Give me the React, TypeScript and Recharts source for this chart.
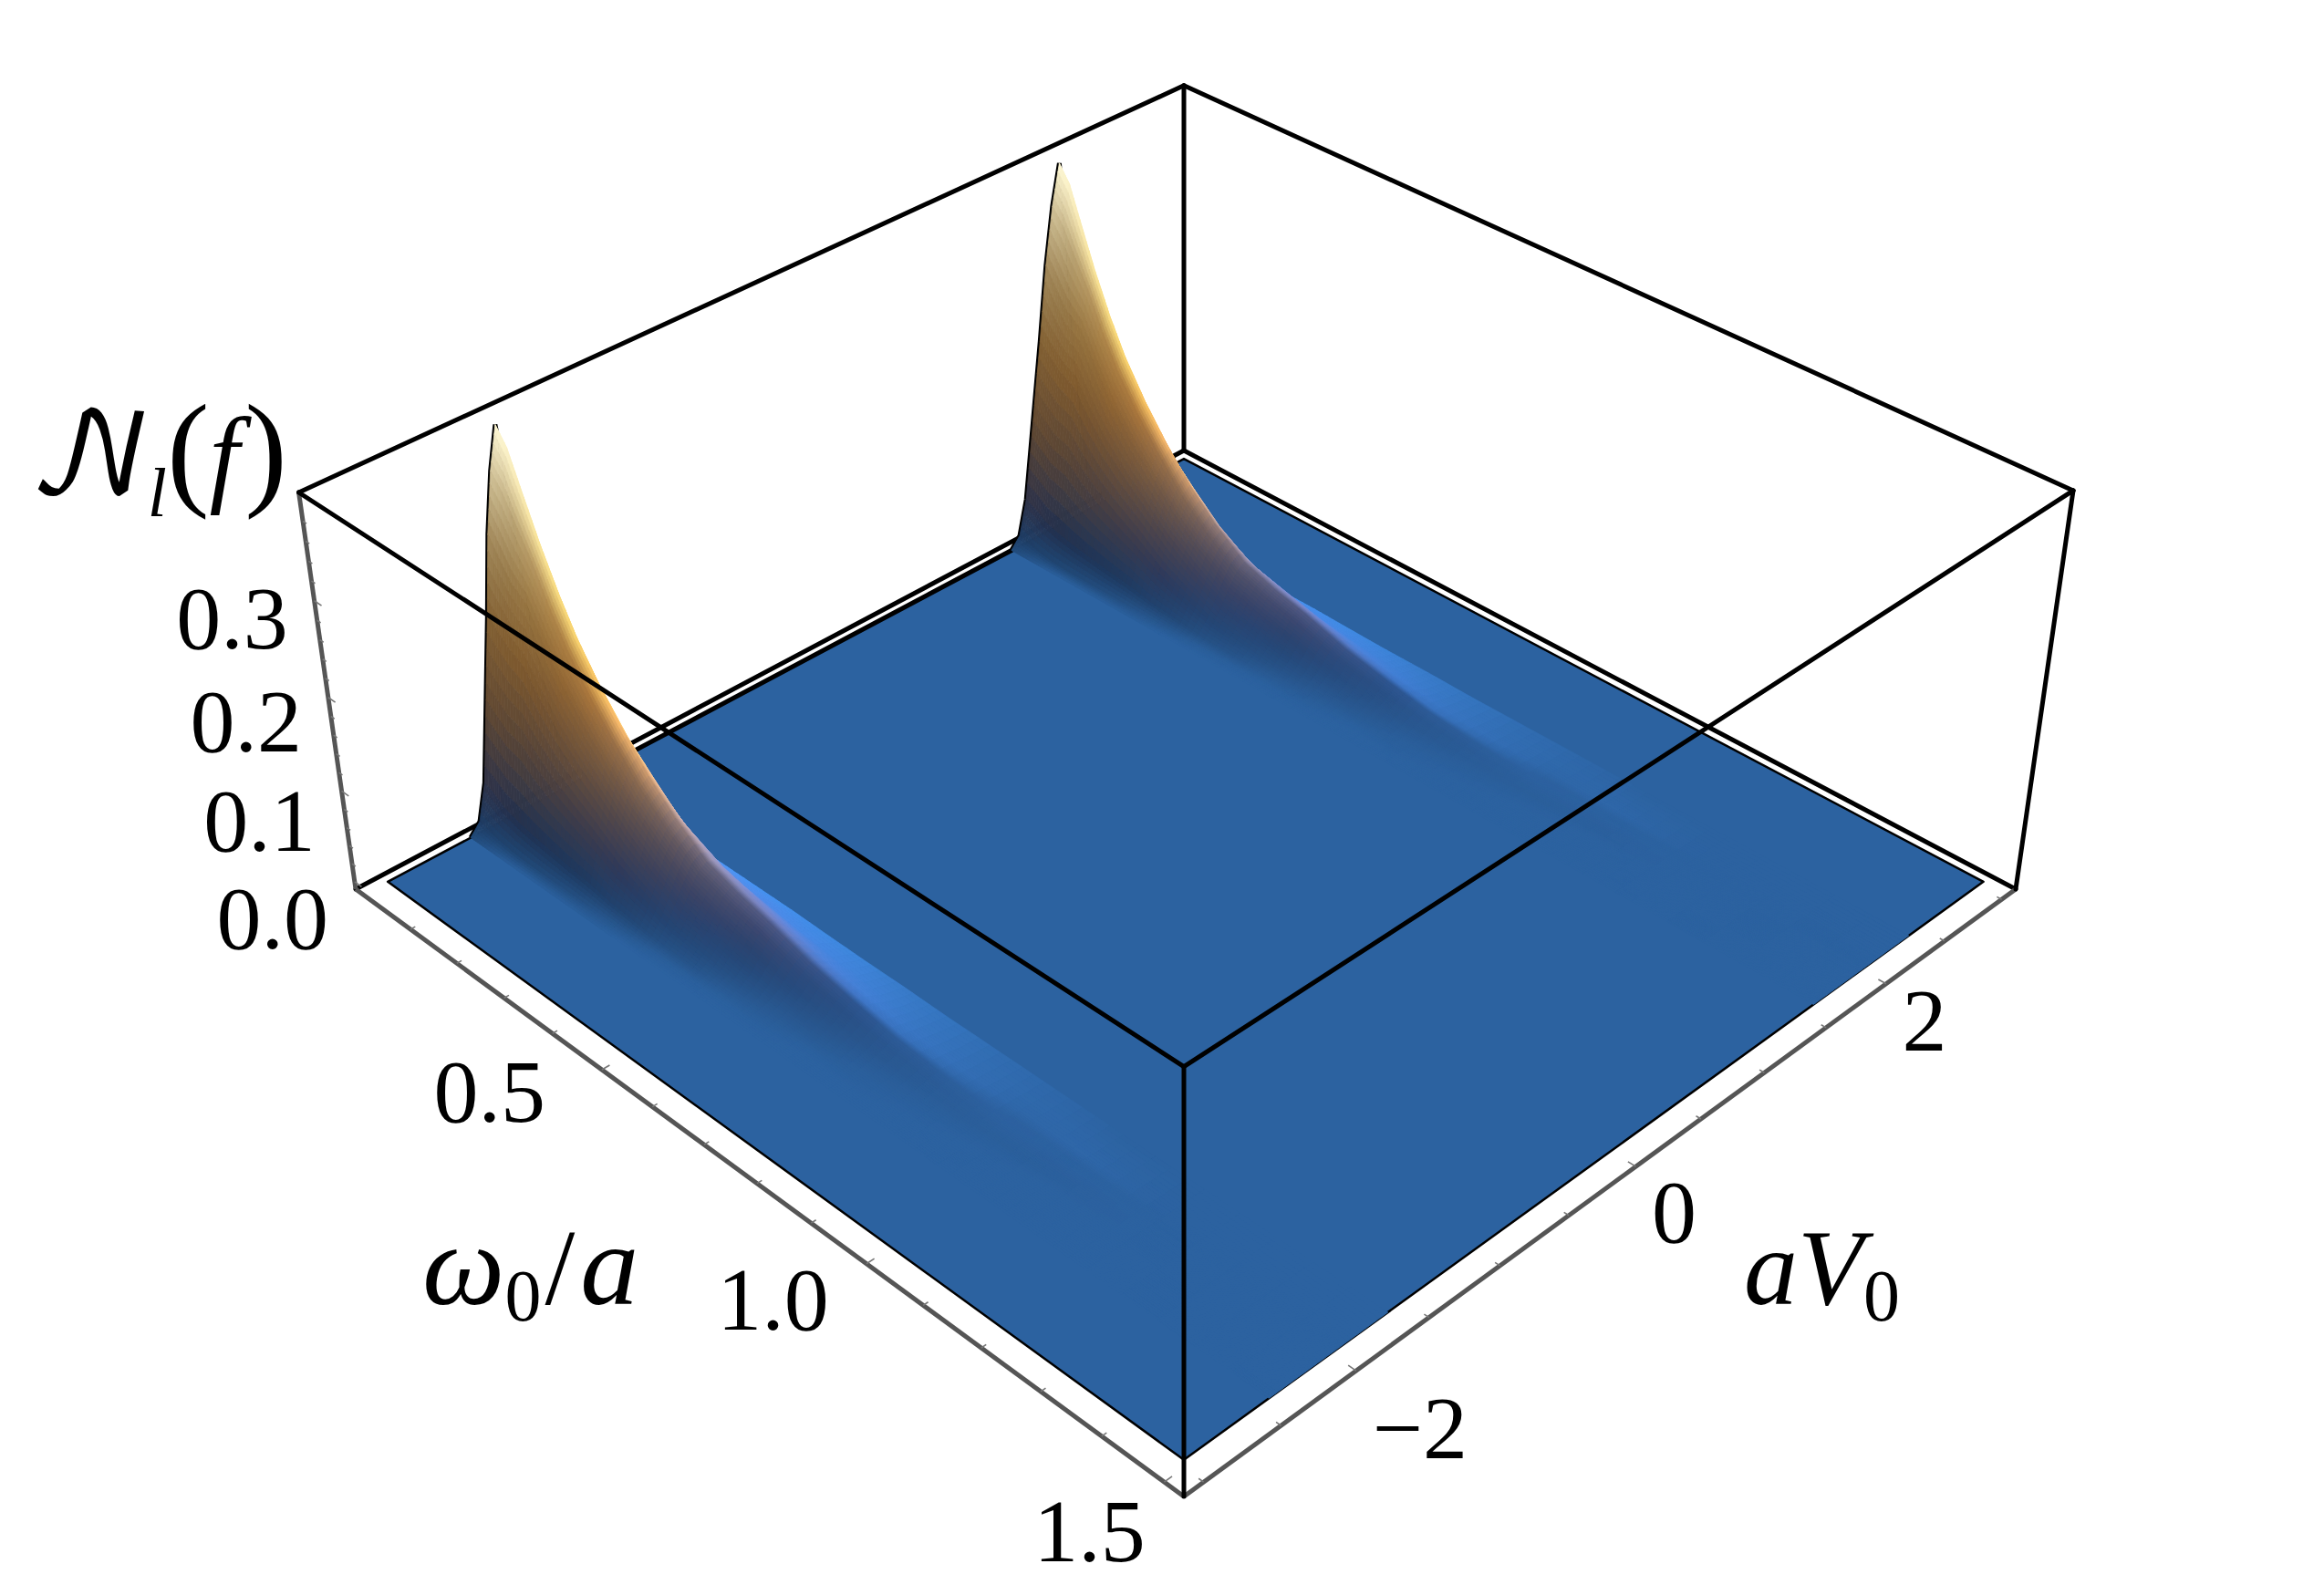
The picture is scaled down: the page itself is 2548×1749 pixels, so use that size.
import React from "react";
import { ScatterChart, Scatter, XAxis, YAxis } from "recharts";

const WIDTH = 2548;
const HEIGHT_PX = 1749;

// values
const OMEGA = [0.01, 0.03, 0.05, 0.08, 0.11, 0.14, 0.18, 0.22, 0.27, 0.32, 0.38, 0.44, 0.5, 0.58, 0.66, 0.74, 0.84, 0.94, 1.06, 1.2, 1.5];
const AV_OFFSET = [-0.45, -0.38, -0.32, -0.25, -0.18, -0.12, -0.06, 0, 0.04, 0.1, 0.2, 0.35];
const RIDGE_AV = [2, -2];
const HEIGHTS = [
  [0, 0.012, 0.05, 0.135, 0.22, 0.3, 0.36, 0.402, 0.33, 0.175, 0.039, 0],
  [0, 0.008, 0.044, 0.125, 0.208, 0.28, 0.345, 0.385, 0.318, 0.167, 0.037, 0],
  [0, 0.005, 0.036, 0.115, 0.198, 0.262, 0.322, 0.352, 0.3, 0.154, 0.034, 0],
  [0, 0.002, 0.03, 0.11, 0.188, 0.249, 0.289, 0.304, 0.268, 0.146, 0.033, 0],
  [0, 0.001, 0.026, 0.094, 0.162, 0.215, 0.249, 0.262, 0.231, 0.126, 0.029, 0],
  [0, 0.001, 0.023, 0.081, 0.14, 0.185, 0.215, 0.226, 0.199, 0.11, 0.027, 0],
  [0, 0.001, 0.019, 0.068, 0.117, 0.154, 0.179, 0.188, 0.17, 0.105, 0.025, 0],
  [0, 0.001, 0.016, 0.056, 0.097, 0.128, 0.148, 0.156, 0.14, 0.09, 0.025, 0.001],
  [0, 0.001, 0.01, 0.038, 0.07, 0.096, 0.113, 0.12, 0.112, 0.08, 0.03, 0.003],
  [0, 0, 0.007, 0.026, 0.05, 0.071, 0.086, 0.092, 0.086, 0.068, 0.03, 0.003],
  [0, 0, 0.003, 0.014, 0.03, 0.046, 0.06, 0.066, 0.064, 0.052, 0.024, 0.003],
  [0, 0, 0.002, 0.01, 0.022, 0.035, 0.048, 0.054, 0.052, 0.043, 0.021, 0.003],
  [0, 0, 0.001, 0.005, 0.014, 0.026, 0.039, 0.045, 0.043, 0.034, 0.016, 0.002],
  [0, 0, 0.001, 0.003, 0.008, 0.015, 0.024, 0.03, 0.029, 0.023, 0.011, 0.001],
  [0, 0, 0, 0.001, 0.005, 0.009, 0.015, 0.02, 0.019, 0.015, 0.007, 0.001],
  [0, 0, 0, 0.001, 0.002, 0.005, 0.008, 0.011, 0.01, 0.008, 0.004, 0],
  [0, 0, 0, 0, 0.001, 0.002, 0.004, 0.005, 0.005, 0.004, 0.002, 0],
  [0, 0, 0, 0, 0, 0.001, 0.002, 0.002, 0.002, 0.002, 0.001, 0],
  [0, 0, 0, 0, 0, 0, 0.001, 0.001, 0.001, 0.001, 0, 0],
  [0, 0, 0, 0, 0, 0, 0, 0, 0, 0, 0, 0],
  [0, 0, 0, 0, 0, 0, 0, 0, 0, 0, 0, 0],
];

const Z_LABELS = ["0.0", "0.1", "0.2", "0.3"];
const OMEGA_LABELS = ["0.5", "1.0", "1.5"];
const AV_LABELS = ["-2", "0", "2"];
const Z_MINOR = [0.02, 0.04, 0.06, 0.08, 0.12, 0.14, 0.16, 0.18, 0.22, 0.24, 0.26, 0.28, 0.32, 0.34, 0.36, 0.38];
const OMEGA_MINOR = [0.1, 0.2, 0.3, 0.4, 0.6, 0.7, 0.8, 0.9, 1.1, 1.2, 1.3, 1.4];
const AV_MINOR = [-3, -2.5, -1.5, -1, -0.5, 0.5, 1, 1.5, 2.5, 3];

const Z_MAX = 0.4;
const OMEGA_MIN = 0.01;
const OMEGA_MAX = 1.5;
const AV_MAX = 3;
const PAD = 0.02;

// floor corners of the box on screen, and where its vertical edges meet
const A = [390, 975];
const B = [1298, 1641];
const C = [2210, 975];
const D = [1298, 494];
const VANISH = [1298, 7300];
const K = -0.06435;

const makeCamera = () => {
  const dx1 = B[0] - C[0], dx2 = D[0] - C[0], sx = A[0] - B[0] + C[0] - D[0];
  const dy1 = B[1] - C[1], dy2 = D[1] - C[1], sy = A[1] - B[1] + C[1] - D[1];
  const det = dx1 * dy2 - dx2 * dy1;
  const g = (sx * dy2 - dx2 * sy) / det;
  const h = (dx1 * sy - sx * dy1) / det;
  return {
    a: B[0] - A[0] + g * B[0], b: D[0] - A[0] + h * D[0], c: A[0],
    d: B[1] - A[1] + g * B[1], e: D[1] - A[1] + h * D[1], f: A[1],
    g, h,
  };
};
const cam = makeCamera();

const unit = (u: number, v: number, w: number) => {
  const den = cam.g * u + cam.h * v + 1 + K * w;
  return {
    x: (cam.a * u + cam.b * v + cam.c + K * VANISH[0] * w) / den,
    y: (cam.d * u + cam.e * v + cam.f + K * VANISH[1] * w) / den,
  };
};
const toU = (om: number) => PAD + ((1 - 2 * PAD) * (om - OMEGA_MIN)) / (OMEGA_MAX - OMEGA_MIN);
const toV = (av: number) => PAD + ((1 - 2 * PAD) * (av + AV_MAX)) / (2 * AV_MAX);
const toW = (z: number) => PAD + ((1 - 2 * PAD) * z) / Z_MAX;

// colour of the surface by height, then lit by its slope across the ridge
const RAMP: [number, number[]][] = [
  [0, [44, 98, 160]],
  [0.05, [50, 92, 155]],
  [0.1, [78, 92, 144]],
  [0.2, [135, 118, 125]],
  [0.3, [192, 145, 105]],
  [0.45, [245, 170, 85]],
  [0.6, [255, 195, 105]],
  [0.8, [255, 225, 160]],
  [1, [255, 250, 215]],
];
const ramp = (t: number) => {
  for (let i = 1; i < RAMP.length; i++) {
    if (t <= RAMP[i][0]) {
      const f = (t - RAMP[i - 1][0]) / (RAMP[i][0] - RAMP[i - 1][0]);
      return RAMP[i][1].map((c, k) => RAMP[i - 1][1][k] + f * (c - RAMP[i - 1][1][k]));
    }
  }
  return RAMP[RAMP.length - 1][1];
};
const vertexColor = (i: number, j: number) => {
  const row = HEIGHTS[i];
  const a = Math.max(j - 1, 0), b = Math.min(j + 1, row.length - 1);
  const s = (row[b] - row[a]) / (AV_OFFSET[b] - AV_OFFSET[a]);
  const t = Math.min(row[j] / Z_MAX, 1);
  let light = 1;
  if (s > 0) light = 1 - (0.65 * (s / (s + 0.3))) * (1 - t ** 4);
  else if (s < 0) light = 1 + 0.9 * (-s / (-s + 0.1)) * (1 - t) ** 1.5;
  return ramp(t).map((c) => Math.min(255, c * light));
};

type Node = { u: number; v: number; w: number; rgb: number[] };
type Cell = { x: number; y: number; nodes: Node[] };

const makeCells = (centre: number): Cell[] => {
  const cells: Cell[] = [];
  const node = (i: number, j: number): Node => ({
    u: toU(OMEGA[i]),
    v: toV(centre + AV_OFFSET[j]),
    w: toW(HEIGHTS[i][j]),
    rgb: vertexColor(i, j),
  });
  for (let i = 0; i < OMEGA.length - 1; i++) {
    for (let j = AV_OFFSET.length - 2; j >= 0; j--) {
      const nodes = [node(i, j), node(i + 1, j), node(i + 1, j + 1), node(i, j + 1)];
      const mid = unit(nodes[0].u, nodes[0].v, nodes[0].w);
      cells.push({ x: mid.x, y: mid.y, nodes });
    }
  }
  return cells;
};

// one table cell, shaded smoothly over its corners
const SUB = 5;
const MeshCell = (props: any) => {
  const { cx, cy, payload } = props;
  const [n00, n10, n11, n01] = payload.nodes as Node[];
  const mix = (p: number, q: number, pick: (n: Node) => number) =>
    (1 - p) * (1 - q) * pick(n00) + p * (1 - q) * pick(n10) + p * q * pick(n11) + (1 - p) * q * pick(n01);
  const at = (p: number, q: number) => {
    const pt = unit(mix(p, q, (n) => n.u), mix(p, q, (n) => n.v), mix(p, q, (n) => n.w));
    return `${(cx + pt.x - payload.x).toFixed(1)},${(cy + pt.y - payload.y).toFixed(1)}`;
  };
  const polys = [];
  for (let a = 0; a < SUB; a++) {
    for (let b = SUB - 1; b >= 0; b--) {
      const p0 = a / SUB, p1 = (a + 1) / SUB, q0 = b / SUB, q1 = (b + 1) / SUB;
      const pm = (p0 + p1) / 2, qm = (q0 + q1) / 2;
      const col = [0, 1, 2].map((k) => Math.round(mix(pm, qm, (n) => n.rgb[k])));
      const fill = `rgb(${col.join(",")})`;
      polys.push(
        <polygon key={`${a}-${b}`} points={[at(p0, q0), at(p1, q0), at(p1, q1), at(p0, q1)].join(" ")} fill={fill} stroke={fill} strokeWidth={0.8} />
      );
    }
  }
  return <g>{polys}</g>;
};

const FloorShape = (props: any) => {
  const { cx, cy, payload } = props;
  const pts = payload.corners.map((c: any) => `${cx + c.x - payload.x},${cy + c.y - payload.y}`).join(" ");
  return <polygon points={pts} fill="#2c62a0" stroke="#000" strokeWidth={2.5} strokeLinejoin="round" />;
};

const NoDot = () => null;

const TickMark = (props: any) => {
  const { cx, cy, payload } = props;
  return <line x1={cx} y1={cy} x2={cx + payload.dx} y2={cy + payload.dy} stroke="#777" strokeWidth={1.6} />;
};

const FONT = "'Liberation Serif', serif";
const Label = (props: any) => {
  const { cx, cy, payload } = props;
  return (
    <text x={cx} y={cy} textAnchor="middle" dominantBaseline="central" fontFamily={FONT} fontSize={98} fill="#000">
      {payload.text}
    </text>
  );
};

const Title = (props: any) => {
  const { cx, cy, payload } = props;
  const common = { x: cx, y: cy, fontFamily: FONT, fontSize: 118, fill: "#000" };
  if (payload.kind === "z") {
    return (
      <text {...common}>
        <tspan fontFamily="'DejaVu Math TeX Gyre', 'Liberation Serif'" fontSize={122}>𝒩</tspan>
        <tspan fontStyle="italic" fontSize={76} dx={-6} dy={26}>l</tspan>
        <tspan dy={-26} fontSize={140}>(</tspan>
        <tspan fontStyle="italic">f</tspan>
        <tspan dx={6} fontSize={140}>)</tspan>
      </text>
    );
  }
  if (payload.kind === "omega") {
    return (
      <text {...common}>
        <tspan fontStyle="italic" fontSize={128}>ω</tspan>
        <tspan fontSize={80} dy={18}>0</tspan>
        <tspan dx={4} dy={-18}>/</tspan>
        <tspan dx={6} fontStyle="italic" fontSize={128}>a</tspan>
      </text>
    );
  }
  return (
    <text {...common}>
      <tspan fontStyle="italic">aV</tspan>
      <tspan fontSize={80} dy={18}>0</tspan>
    </text>
  );
};

const floorPt = (u: number, v: number) => unit(u, v, PAD);
const FLOOR_CORNERS = [floorPt(PAD, PAD), floorPt(1 - PAD, PAD), floorPt(1 - PAD, 1 - PAD), floorPt(PAD, 1 - PAD)];

const edge = (p: number[], q: number[]) => [unit(p[0], p[1], p[2]), unit(q[0], q[1], q[2])];

const BACK_EDGES = [
  edge([0, 0, 0], [0, 1, 0]),
  edge([0, 1, 0], [1, 1, 0]),
  edge([0, 1, 0], [0, 1, 1]),
  edge([0, 0, 1], [0, 1, 1]),
  edge([0, 1, 1], [1, 1, 1]),
];
const FRONT_EDGES = [
  edge([1, 1, 0], [1, 1, 1]),
  edge([1, 0, 0], [1, 0, 1]),
  edge([0, 0, 1], [1, 0, 1]),
  edge([1, 0, 1], [1, 1, 1]),
];
const AXIS_EDGES = [edge([0, 0, 0], [1, 0, 0]), edge([1, 0, 0], [1, 1, 0]), edge([0, 0, 0], [0, 0, 1])];

// outline of the surface along its low omega side, taken from the first table row
const boundary = [...RIDGE_AV].reverse().flatMap((av) =>
  AV_OFFSET.map((off, j) => unit(toU(OMEGA[0]), toV(av + off), toW(HEIGHTS[0][j])))
);

const tick = (u: number, v: number, w: number, du: number, dv: number, dw: number) => {
  const p = unit(u, v, w);
  const q = unit(u + du, v + dv, w + dw);
  return { x: p.x, y: p.y, dx: q.x - p.x, dy: q.y - p.y };
};
const ticks = [
  ...Z_LABELS.map((t) => tick(0, 0, toW(Number(t)), 0.01, 0, 0)),
  ...Z_MINOR.map((z) => tick(0, 0, toW(z), 0.005, 0, 0)),
  ...OMEGA_LABELS.map((t) => tick(toU(Number(t)), 0, 0, 0, 0.008, 0)),
  ...OMEGA_MINOR.map((o) => tick(toU(o), 0, 0, 0, 0.005, 0)),
  ...AV_LABELS.map((t) => tick(1, toV(Number(t)), 0, -0.008, 0, 0)),
  ...AV_MINOR.map((a) => tick(1, toV(a), 0, -0.005, 0, 0)),
];

const labels = [
  ...Z_LABELS.map((text) => {
    const z = Number(text);
    const p = unit(0, 0, toW(z));
    return { x: p.x - 90, y: p.y + 40 - 70 * z, text };
  }),
  ...OMEGA_LABELS.map((text) => {
    const o = Number(text);
    const p = unit(toU(o), 0, 0);
    return { x: p.x - 123 + 41 * (o - 0.5), y: p.y + 24 + 30 * (o - 0.5), text };
  }),
  ...AV_LABELS.map((text) => {
    const a = Number(text);
    const p = unit(1, toV(a), 0);
    return { x: p.x + (a < 0 ? 70 : 42), y: p.y + 50 + (a < 0 ? 13 : a > 0 ? -10 : 0), text: text.replace("-", "\u2212") };
  }),
];

const titles = [
  { x: 32, y: 540, kind: "z" },
  { x: 463, y: 1430, kind: "omega" },
  { x: 1912, y: 1430, kind: "av" },
];

const black = { stroke: "#000", strokeWidth: 5, strokeLinecap: "round" as const };

export default function App() {
  return (
    <div style={{ position: "absolute", left: 0, top: 0 }}>
      <ScatterChart width={WIDTH} height={HEIGHT_PX} margin={{ top: 0, right: 0, bottom: 0, left: 0 }}>
        <XAxis type="number" dataKey="x" domain={[0, WIDTH]} hide />
        <YAxis type="number" dataKey="y" domain={[0, HEIGHT_PX]} reversed hide />
        {BACK_EDGES.map((d, i) => (
          <Scatter key={`back${i}`} data={d} line={black} shape={NoDot} isAnimationActive={false} />
        ))}
        {AXIS_EDGES.map((d, i) => (
          <Scatter key={`axis${i}`} data={d} line={{ stroke: "#555", strokeWidth: 5 }} shape={NoDot} isAnimationActive={false} />
        ))}
        <Scatter data={ticks} shape={TickMark} isAnimationActive={false} />
        <Scatter data={[{ ...FLOOR_CORNERS[0], corners: FLOOR_CORNERS }]} shape={FloorShape} isAnimationActive={false} />
        <Scatter data={boundary} line={{ stroke: "#000", strokeWidth: 5 }} shape={NoDot} isAnimationActive={false} />
        {RIDGE_AV.map((av) => (
          <Scatter key={`ridge${av}`} data={makeCells(av)} shape={MeshCell} isAnimationActive={false} />
        ))}
        {FRONT_EDGES.map((d, i) => (
          <Scatter key={`front${i}`} data={d} line={black} shape={NoDot} isAnimationActive={false} />
        ))}
        <Scatter data={labels} shape={Label} isAnimationActive={false} />
        <Scatter data={titles} shape={Title} isAnimationActive={false} />
      </ScatterChart>
    </div>
  );
}
